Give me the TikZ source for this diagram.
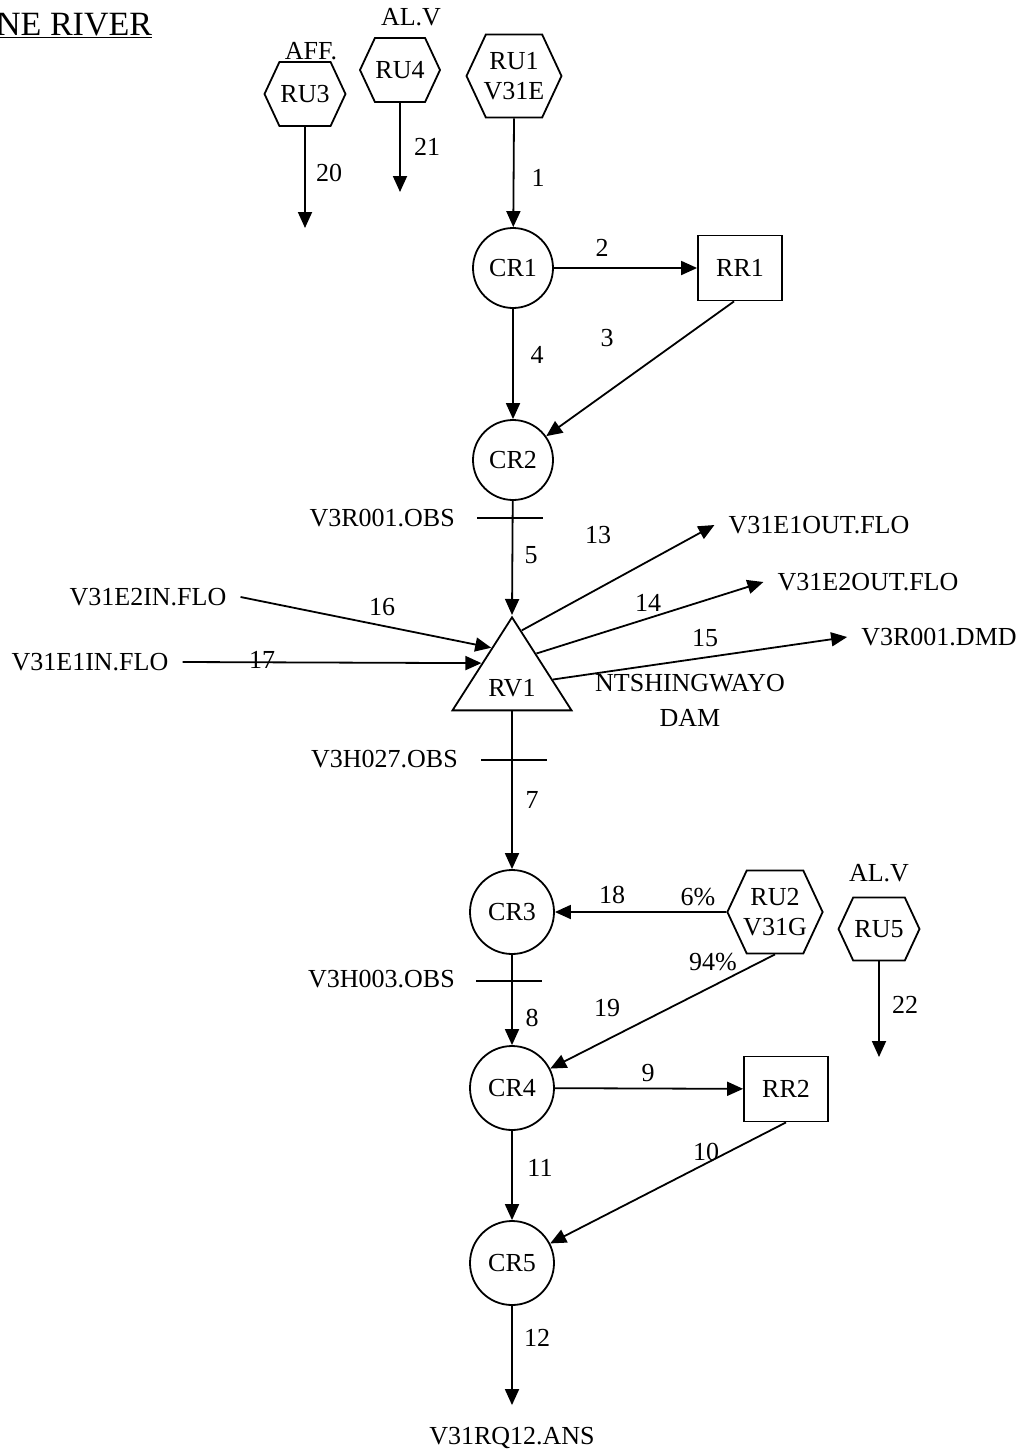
\documentclass[tikz,border=0pt]{standalone}
\usepackage{fontspec}
\setmainfont{Liberation Serif}
\usetikzlibrary{arrows.meta,shapes.geometric,shapes.symbols,calc}
\begin{document}
\begin{tikzpicture}[x=1pt, y=-1pt,
		every node/.style={font=\fontsize{26}{30}\selectfont, inner sep=0pt},
		cr/.style={circle, draw, line width=1.8pt, minimum size=80pt},
		rr/.style={rectangle, draw, line width=1.8pt, minimum width=84pt, minimum height=65pt},
		ru/.style={signal, signal to=east and west, signal pointer angle=130, draw, line width=1.8pt, align=center, inner xsep=0pt},
		ext/.style={inner sep=14pt},
		flow/.style={-{Triangle[length=16pt,width=14pt]}, line width=1.8pt},
		gauge/.style={line width=1.8pt}
	]
		\useasboundingbox (0,0) rectangle (1031,1454);
		\node[anchor=base west, font=\fontsize{34}{40}\selectfont] (title) at (-4,35) {\underline{NE RIVER}};
		
		% upstream units
		\node[ru, minimum width=81pt, minimum height=64pt] (ru3) at (305,94) {RU3};
		\node (aff) at (311,51) {AFF.};
		\node[ru, minimum width=80pt, minimum height=64pt] (ru4) at (400,70) {RU4};
		\node (alv1) at (411,17) {AL.V};
		\node[ru, minimum width=95pt, minimum height=83pt, inner xsep=-2.5pt] (ru1) at (514,76) {RU1\\V31E};
		\coordinate (e20) at (305,228);
		\coordinate (e21) at (400,192);
		\draw[flow] (ru3) -- (e20);
		\draw[flow] (ru4) -- (e21);
		\node (n20) at (329,173) {20};
		\node (n21) at (427,147) {21};
		
		% channel reaches and reservoir
		\node[cr] (cr1) at (513,268) {CR1};
		\node[rr] (rr1) at (740,268) {RR1};
		\node[cr] (cr2) at (513,460) {CR2};
		\node[isosceles triangle, isosceles triangle stretches, shape border rotate=90,
			draw, line width=1.8pt, minimum width=119pt, minimum height=93pt, anchor=apex] (rv1) at (512,615) {RV1};
		\draw[flow] (ru1.south) -- (cr1);
		\draw[flow] (cr1) -- (rr1);
		\draw[flow] (cr1) -- (cr2);
		\draw[flow] ($(rr1.south)+(-6,0)$) -- (cr2);
		\draw[flow] (cr2) -- (rv1.apex);
		\node (n1) at (538,178) {1};
		\node (n2) at (602,248) {2};
		\node (n3) at (607,338) {3};
		\node (n4) at (537,355) {4};
		\node (n5) at (531,555) {5};
		
		% gauges
		\node[anchor=east] (obs1) at (455,518) {V3R001.OBS};
		\draw[gauge] (477,518) -- (543,518);
		\node[anchor=east] (obs2) at (458,759) {V3H027.OBS};
		\draw[gauge] (481,760) -- (547,760);
		\node[anchor=east] (obs3) at (455,979) {V3H003.OBS};
		\draw[gauge] (476,981) -- (542,981);
		
		% dam in- and outflows
		\coordinate (s13) at ($(rv1.apex)!0.16!(rv1.right corner)$);
		\coordinate (s14) at ($(rv1.apex)!0.40!(rv1.right corner)$);
		\coordinate (s15) at ($(rv1.apex)!0.67!(rv1.right corner)$);
		\coordinate (s16) at ($(rv1.apex)!0.34!(rv1.left corner)$);
		\coordinate (s17) at ($(rv1.apex)!0.50!(rv1.left corner)$);
		\node[ext] (out1) at (819,525) {V31E1OUT.FLO};
		\node[ext] (out2) at (868,582) {V31E2OUT.FLO};
		\node[ext] (dmd) at (939,637) {V3R001.DMD};
		\node[ext] (in2) at (148,597) {V31E2IN.FLO};
		\node[ext] (in1) at (90,662) {V31E1IN.FLO};
		\draw[flow] (s13) -- (out1.west);
		\draw[flow] (s14) -- (out2.west);
		\draw[flow] (s15) -- (dmd.west);
		\draw[flow] (in2.east) -- (s16);
		\draw[flow] (in1.east) -- (s17);
		\node (n13) at (598,535) {13};
		\node (n14) at (648,603) {14};
		\node (n15) at (705,638) {15};
		\node (n16) at (382,607) {16};
		\node (n17) at (262,660) {17};
		\node[align=center] (dam) at (690,700) {NTSHINGWAYO\\[5pt]DAM};
		
		% lower reaches
		\node[cr, minimum size=84pt] (cr3) at (512,912) {CR3};
		\node[ru, minimum width=95pt, minimum height=83pt, inner xsep=-3.5pt] (ru2) at (775,912) {RU2\\V31G};
		\node[ru, minimum width=81pt, minimum height=63pt] (ru5) at (879,929) {RU5};
		\node (alv2) at (879,873) {AL.V};
		\node[cr, minimum size=84pt] (cr4) at (512,1088) {CR4};
		\node[rr] (rr2) at (786,1089) {RR2};
		\node[cr, minimum size=84pt] (cr5) at (512,1263) {CR5};
		\node (ans) at (512,1438) {V31RQ12.ANS};
		\coordinate (e22) at (879,1057);
		\draw[flow] (rv1.lower side) -- (cr3);
		\draw[flow] (ru2) -- (cr3);
		\draw[flow] (ru2.south) -- (cr4);
		\draw[flow] (cr3) -- (cr4);
		\draw[flow] (ru5) -- (e22);
		\draw[flow] (cr4) -- (rr2);
		\draw[flow] (cr4) -- (cr5);
		\draw[flow] (rr2.south) -- (cr5);
		\draw[flow, shorten >=22pt] (cr5) -- (ans);
		\node (n7) at (532,800) {7};
		\node (n8) at (532,1018) {8};
		\node (n9) at (648,1073) {9};
		\node (n10) at (706,1152) {10};
		\node (n11) at (540,1168) {11};
		\node (n12) at (537,1338) {12};
		\node (n18) at (612,895) {18};
		\node (n19) at (607,1008) {19};
		\node (n22) at (905,1005) {22};
		\node (p6) at (698,897) {6\%};
		\node (p94) at (713,962) {94\%};
	\end{tikzpicture}
\end{document}
